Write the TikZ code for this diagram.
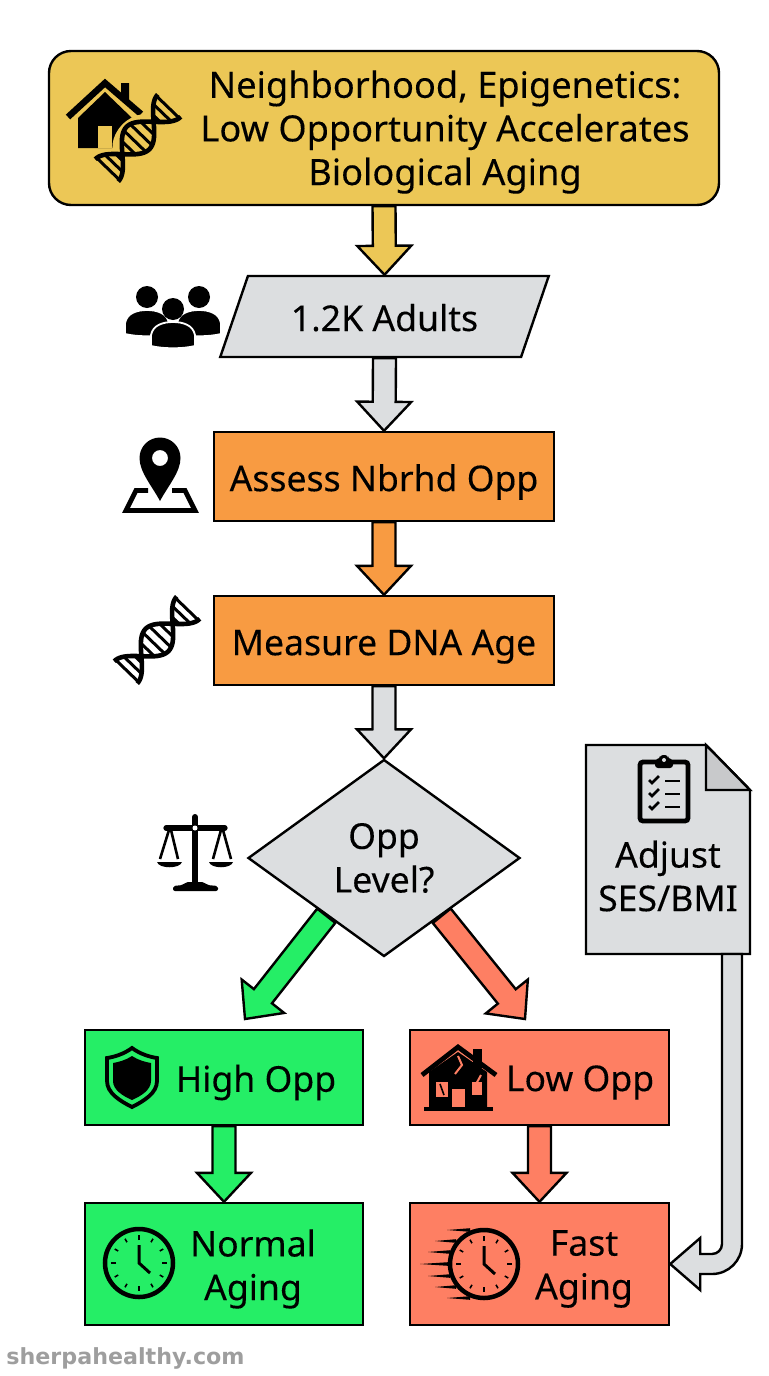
\documentclass[tikz,border=0pt]{standalone}
\usepackage{fontspec}
\setmainfont{Noto Sans}[FakeBold=0.15]
\newfontfamily\markfont{DejaVu Sans}
\usetikzlibrary{positioning,calc,shapes.geometric}
\definecolor{goldfill}{HTML}{ECC756}
\definecolor{grayfill}{HTML}{DCDEE0}
\definecolor{orangefill}{HTML}{F89B42}
\definecolor{greenfill}{HTML}{25EE66}
\definecolor{salmonfill}{HTML}{FE7F63}
\tikzset{
  boxfont/.style={font=\fontsize{17.8}{21.8}\selectfont, align=center},
  plainbox/.style={draw=black, line width=1.2pt, inner sep=0pt, boxfont},
  stepbox/.style={plainbox, minimum width=170pt, minimum height=44.5pt, fill=orangefill, text height=19pt, text depth=4.3pt},
  boxtext/.style={inner sep=0pt, boxfont},
  % block arrow drawn between two named points
  blockarrow/.style={draw=black, line width=1.2pt, to path={
    ($(\tikztostart)!5.75pt!90:(\tikztotarget)$)
    -- ($(\tikztotarget)!15.6pt!-21.6:(\tikztostart)$)
    -- ($(\tikztotarget)!19.8pt!-43:(\tikztostart)$)
    -- (\tikztotarget)
    -- ($(\tikztotarget)!19.8pt!43:(\tikztostart)$)
    -- ($(\tikztotarget)!15.6pt!21.6:(\tikztostart)$)
    -- ($(\tikztostart)!5.75pt!-90:(\tikztotarget)$) -- cycle}},
  elbowarrow/.style={draw=black, line width=1.2pt, to path={
    let \p1=(\tikztostart), \p2=(\tikztotarget) in
    (\x1-5pt,\y1) -- (\x1-5pt,\y2+10pt) arc[start angle=0, end angle=-90, radius=5pt]
    -- (\x2+15pt,\y2+5pt) -- (\x2+15pt,\y2+13pt) -- (\x2,\y2) -- (\x2+15pt,\y2-13pt)
    -- (\x2+15pt,\y2-5pt) -- (\x1-10pt,\y2-5pt) arc[start angle=-90, end angle=0, radius=15pt]
    -- (\x1+5pt,\y1) -- cycle}},
  dnapic/.pic={
    \draw[line width=2.3pt] plot[smooth, domain=-45:45, samples=41] (\x,{16*cos(4*\x)});
    \draw[line width=2.3pt] plot[smooth, domain=-45:45, samples=41] (\x,{-16*cos(4*\x)});
    \foreach \u in {-43,-35,-27,-13.5,-4.5,4.5,13.5,27,35,43}
      \draw[line width=1.5pt] (\u,{-16*cos(4*\u)}) -- (\u,{16*cos(4*\u)});
  },
  clockpic/.pic={
    \draw[line width=2.25pt] (0,0) circle[radius=34];
    \foreach \a in {30,60,120,150,210,240,300,330}
      \draw[line width=.8pt] (\a:24) -- (\a:28);
    \foreach \a in {0,90,180,270}
      \draw[line width=1.4pt] (\a:23) -- (\a:28);
    \draw[line width=1.5pt] (0,-18) -- (0,0) -- (11,10);
  },
  personpic/.pic={
    \fill (0,-14) circle[radius=11];
    \filldraw[draw=white, line width=.9pt] (-22,23) -- (-22,12) .. controls (-20,2) and (-10,-1) .. (0,-1)
      .. controls (10,-1) and (20,2) .. (22,12) -- (22,23) .. controls (10,26) and (-10,26) .. (-22,23) -- cycle;
  },
}
\begin{document}
\begin{tikzpicture}[x=0.5pt, y=-0.5pt, line join=miter]
  \useasboundingbox (0,0) rectangle (768,1376);

  % boxes
  \node[plainbox, fill=goldfill, rounded corners=11pt, minimum width=335pt, minimum height=77pt] (title) at (384,128) {};
  \node[plainbox, fill=grayfill, trapezium, trapezium left angle=56.8, trapezium right angle=123.2, trapezium stretches=true, minimum width=164.5pt, minimum height=40.5pt, text height=14.5pt, text depth=0pt] (cohort) at (384.5,316.5) {1.2K Adults};
  \node[stepbox] (assess) at (384,476.5) {Assess Nbrhd Opp};
  \node[stepbox] (measure) at (384,640.5) {Measure DNA Age};
  \node[plainbox, fill=grayfill, diamond, aspect=1.38, minimum width=136pt, minimum height=98.5pt] (decision) at (384,858) {Opp\\Level?};
  \node[plainbox, fill=greenfill, minimum width=139pt, minimum height=47.5pt] (high) at (224,1077.5) {};
  \node[plainbox, fill=salmonfill, minimum width=129.5pt, minimum height=47.5pt] (low) at (539.5,1077.5) {};
  \node[plainbox, fill=greenfill, minimum width=139pt, minimum height=61pt] (normal) at (224,1264) {};
  \node[plainbox, fill=salmonfill, minimum width=129.5pt, minimum height=61pt] (fast) at (539.5,1264) {};
  \node[inner sep=0pt, outer sep=0pt, minimum width=82pt, minimum height=104.5pt] (adjust) at (668,849.5) {};
  \draw[line width=1.2pt, fill=grayfill] (adjust.north west) -- ++(120,0) -- ++(44,45) -- (adjust.south east) -- (adjust.south west) -- cycle;
  \draw[line width=1.2pt, fill=gray!22!grayfill] (706,745) -- (706,790) -- (750,790) -- cycle;

  % texts beside the icons
  \node[boxtext, font=\fontsize{18.1}{21.8}\selectfont] (titletext) at (445,132) {Neighborhood, Epigenetics:\\Low Opportunity Accelerates\\Biological Aging};
  \node[boxtext] (hightext) at (256,1082.5) {High Opp};
  \node[boxtext] (lowtext) at (580,1082.5) {Low Opp};
  \node[boxtext] (normaltext) at (253,1269) {Normal\\Aging};
  \node[boxtext] (fasttext) at (584,1269) {Fast\\Aging};
  \node[boxtext] (adjusttext) at (668,876) {Adjust\\SES/BMI};
  \node[inner sep=0pt, anchor=west, text=black!38, font=\markfont\bfseries\fontsize{11.1}{13}\selectfont] (site) at (6,1358) {sherpahealthy.com};

  % arrows
  \coordinate (hightip) at (245,1019);
  \coordinate (lowtip) at (525,1019);
  \coordinate (adjustfoot) at (732,954);
  \draw[blockarrow, fill=goldfill] (title.south) to (cohort.north);
  \draw[blockarrow, fill=grayfill] (cohort.south) to (assess.north);
  \draw[blockarrow, fill=orangefill] (assess.south) to (measure.north);
  \draw[blockarrow, fill=grayfill] (measure.south) to (decision.north);
  \draw[blockarrow, fill=greenfill] (decision.225) to (hightip);
  \draw[blockarrow, fill=salmonfill] (decision.-45) to (lowtip);
  \draw[blockarrow, fill=greenfill] (high.south) to (normal.north);
  \draw[blockarrow, fill=salmonfill] (low.south) to (fast.north);
  \draw[elbowarrow, fill=grayfill] (adjustfoot) to (fast.east);

  % title icon
  \fill (78,148) -- (78,118) -- (105,92) -- (132,118) -- (132,148) -- cycle;
  \fill (121,83) -- (129,83) -- (129,104) -- (121,96) -- cycle;
  \draw[line width=3.2pt] (68,117) -- (105,83) -- (141,114);
  \fill[goldfill] (98,126) rectangle (112,148);
  \fill[goldfill, rotate around={46:(138,140)}] (138,140) ellipse[x radius=29, y radius=22];
  \pic[rotate=46] at (138,138) {dnapic};

  % side icons
  \pic at (147,311) {personpic};
  \pic at (199,311) {personpic};
  \pic at (173,323) {personpic};

  \fill[even odd rule] (160,501) .. controls (152,486) and (139.5,472) .. (139.5,458)
    arc[start angle=180, end angle=0, radius=10.25pt]
    .. controls (180.5,472) and (168,486) .. (160,501) -- cycle
    (160,458) circle[radius=8];
  \draw[line width=2.4pt] (148,490.5) -- (136,490.5) -- (126,510.5) -- (195,510.5) -- (185,490.5) -- (172,490.5);

  \pic[rotate=46] at (157,640) {dnapic};

  % scales
  \draw[line width=3pt, line cap=round] (195,817) -- (195,886);
  \draw[line width=2.6pt, line cap=round] (166,828) -- (225,828);
  \fill[white] (195,828) circle[radius=2.5];
  \draw[line width=1.3pt] (169,830) -- (160,859) (171,830) -- (178,859) (221,830) -- (213,859) (223,830) -- (231,859);
  \fill (157,862) -- (182,862) .. controls (180,869) and (159,869) .. (157,862) -- cycle;
  \fill (209,862) -- (233,862) .. controls (231,869) and (211,869) .. (209,862) -- cycle;
  \fill[rounded corners=1pt] (173,891) -- (173,886) -- (183,885) -- (186,882) -- (204,882) -- (207,885) -- (218,886) -- (218,891) -- cycle;

  % clipboard
  \draw[line width=2.4pt, rounded corners=1.5pt] (640,762) rectangle (688,821);
  \fill[rounded corners=1.5pt] (655,768) -- (655,759) -- (660,759) -- (660,755) -- (668,755) -- (668,759) -- (673,759) -- (673,768) -- cycle;
  \fill[grayfill] (664,760) circle[radius=2];
  \foreach \yy in {780,793,806} {
    \draw[line width=1.3pt] (649,\yy) -- (652,\yy+3) -- (659,\yy-4);
    \draw[line width=1.4pt] (665,\yy+1) -- (680,\yy+1);
  }

  % shield
  \draw[line width=1.9pt] (132,1048) .. controls (140,1054) and (150,1057) .. (157,1058) -- (157,1081)
    .. controls (157,1093) and (144,1101) .. (132,1107) .. controls (120,1101) and (107,1093) .. (107,1081)
    -- (107,1058) .. controls (114,1057) and (124,1054) .. (132,1048) -- cycle;
  \fill (132,1056) .. controls (138,1060) and (145,1062) .. (151,1063) -- (151,1081)
    .. controls (151,1090) and (141,1096) .. (132,1100) .. controls (123,1096) and (113,1090) .. (113,1081)
    -- (113,1063) .. controls (119,1062) and (126,1060) .. (132,1056) -- cycle;

  % damaged house
  \fill (429,1107) -- (429,1072) -- (458,1052) -- (487,1072) -- (487,1107) -- cycle;
  \fill (473,1049) rectangle (482,1068);
  \draw[line width=2.4pt] (422,1075) -- (458,1047) -- (496,1075);
  \fill (424,1107) rectangle (493,1111);
  \fill[salmonfill] (452,1089) rectangle (465,1107);
  \fill[salmonfill] (436,1082) rectangle (448,1097);
  \fill[salmonfill] (472,1082) rectangle (482,1095);
  \draw[salmonfill, line width=1pt] (458,1056) -- (462,1065) -- (455,1074);
  \draw[salmonfill, line width=1pt] (481,1075) -- (475,1086);
  \draw[line width=.8pt] (440,1084) -- (444,1095);

  % clocks
  \pic at (139,1263) {clockpic};
  \pic at (484,1264) {clockpic};
  \foreach \dy/\xs/\xe in {-34/-37/-14, -23/-49/-28, -12/-56/-34, 0/-64/-36, 12/-56/-34, 23/-49/-28, 34/-37/-14}
    \fill (484+\xs,1264+\dy) -- (484+\xe,1264+\dy-1.8) -- (484+\xe,1264+\dy+1.8) -- cycle;
\end{tikzpicture}
\end{document}
